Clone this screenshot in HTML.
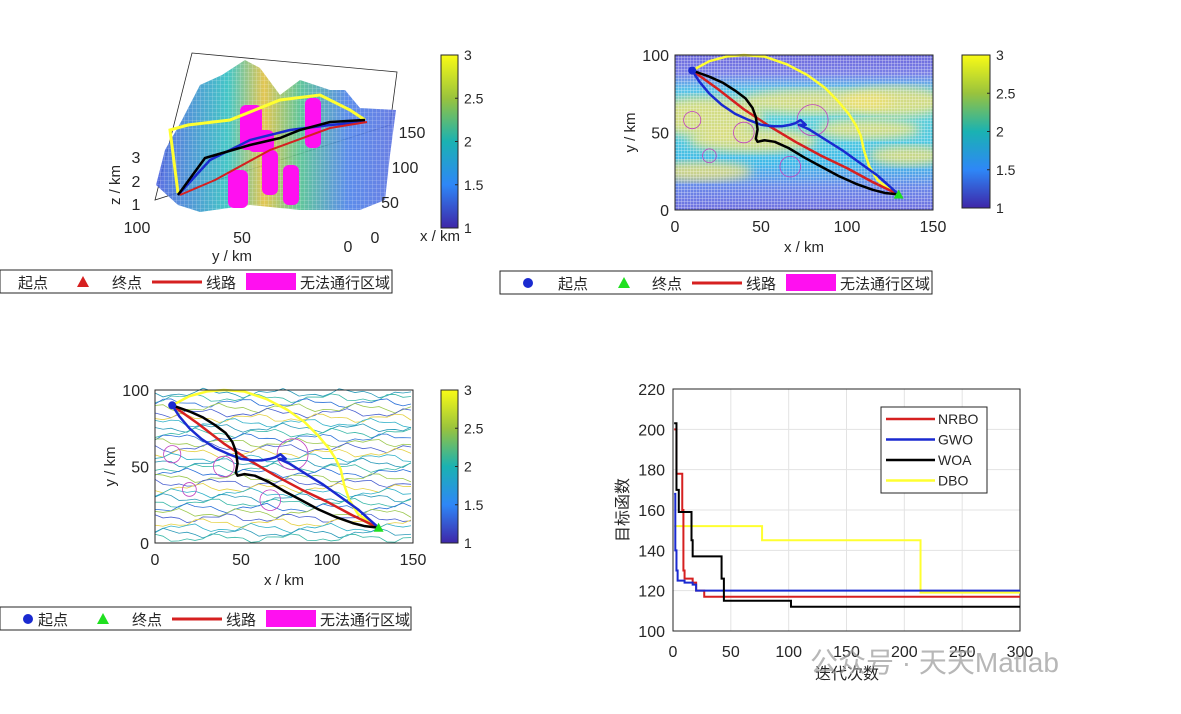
<!DOCTYPE html>
<html><head><meta charset="utf-8">
<style>
body{margin:0;background:#fff;width:1181px;height:709px;overflow:hidden;font-family:"Liberation Sans","Noto Sans CJK SC",sans-serif}
svg text{font-family:"Liberation Sans","Noto Sans CJK SC",sans-serif}
</style></head>
<body>
<svg id="s" width="1181" height="709" xmlns="http://www.w3.org/2000/svg">
<defs>
<linearGradient id="cb" x1="0" y1="1" x2="0" y2="0">
<stop offset="0" stop-color="#3e26a8"/><stop offset="0.25" stop-color="#2e87f7"/><stop offset="0.5" stop-color="#1ab2b2"/><stop offset="0.75" stop-color="#99c33d"/><stop offset="1" stop-color="#f9fb15"/></linearGradient>
<linearGradient id="bgv" x1="0" y1="0" x2="0" y2="1">
<stop offset="0" stop-color="#6c68dc"/><stop offset="0.12" stop-color="#7a80e6"/><stop offset="0.22" stop-color="#58c0e8"/><stop offset="0.35" stop-color="#60d0d8"/><stop offset="0.55" stop-color="#50c8e0"/><stop offset="0.7" stop-color="#40b8e8"/><stop offset="0.85" stop-color="#6a88e8"/><stop offset="1" stop-color="#7070e0"/></linearGradient>
<filter id="blur"><feGaussianBlur stdDeviation="5"/></filter>
<pattern id="wgrid" width="3" height="3" patternUnits="userSpaceOnUse"><path d="M0 0H3M0 0V3" stroke="#ffffff" stroke-width="0.7" opacity="0.75"/></pattern>
<pattern id="grid" width="4" height="4" patternUnits="userSpaceOnUse"><path d="M0 0H4M0 0V4" stroke="#ffffff" stroke-width="0.6" opacity="0.6"/></pattern>
<linearGradient id="terr" x1="0" y1="0" x2="1" y2="0">
<stop offset="0" stop-color="#4a5fe0"/><stop offset="0.3" stop-color="#30c0c0"/><stop offset="0.45" stop-color="#e0c040"/><stop offset="0.6" stop-color="#50c090"/><stop offset="0.8" stop-color="#4a80e8"/><stop offset="1" stop-color="#5a70e0"/></linearGradient>
</defs>
<g id="g"></g>
</svg>
<script>
// ---- convergence data ----
const iterNRBO=[1,3,8,9,10,17,20,27,300];
const valNRBO=[200,178,160,130,126,124,120,117,117];
const iterGWO=[1,2,3,4,10,17,20,300];
const valGWO=[168,140,130,125,124,123,120,120];
const iterWOA=[1,3,5,13,16,17,39,42,44,100,102,300];
const valWOA=[203,170,159,159,145,137,137,126,115,115,112,112];
const iterDBO=[1,75,77,212,214,300];
const valDBO=[152,152,145,145,119,119];
const xTicks=[0,50,100,150,200,250,300];
const yTicks=[100,120,140,160,180,200,220];
// ---- path data (x km, y km) ----
const pathYellowX=[10,20,30,40,52,65,77,87,95,101,105,108,110,113,118,124,130];
const pathYellowY=[90,96,99,100,99,94,87,79,70,62,55,48,38,28,19,14,10];
const pathBlackX=[10,20,28,35,41,45,47,48,47,48,52,58,66,75,85,95,105,115,122,130];
const pathBlackY=[90,86,82,77,72,66,60,52,46,44,45,44,40,34,28,22,17,13,11,10];
const pathBlueX=[10,14,20,27,35,43,50,57,62,67,70,73,76,72,78,88,98,108,118,124,130];
const pathBlueY=[90,83,75,68,62,58,55,54,54,55,56,58,55,55,52,45,38,30,22,16,10];
const pathRedX=[10,25,40,55,70,85,100,115,130];
const pathRedY=[90,78,65,54,44,35,27,18,10];
const obsX=[10,40,20,80,67];
const obsY=[58,50,35,58,28];
const obsR=[5,6,4,9,6];
const cbTicks=[1,1.5,2,2.5,3];

const NS='http://www.w3.org/2000/svg';
const G=document.getElementById('g');
function el(t,a,p){const e=document.createElementNS(NS,t);for(const k in a)e.setAttribute(k,a[k]);(p||G).appendChild(e);return e;}
function txt(x,y,s,size,anchor,p){const e=el('text',{x:x,y:y,'font-size':size,'text-anchor':anchor||'middle',fill:'#262626'},p);e.textContent=s;return e;}

// ---- convergence chart ----
const L=673,R=1020,T=389,B=631;
const sx=v=>L+(v/300)*(R-L), sy=v=>B-(v-100)/120*(B-T);
const cv=el('g',{});


xTicks.forEach(t=>{el('line',{x1:sx(t),x2:sx(t),y1:T,y2:B,stroke:'#e3e3e3'},cv);const l=txt(sx(t),657,t,16,'middle',cv);});
yTicks.forEach(t=>{el('line',{x1:L,x2:R,y1:sy(t),y2:sy(t),stroke:'#e3e3e3'},cv);const l=txt(L-8,sy(t)+6,t,16,'end',cv);});
el('rect',{x:L,y:T,width:R-L,height:B-T,fill:'none',stroke:'#262626'},cv);
function step(ix,vs,c,name){let d='M'+sx(ix[0])+' '+sy(vs[0]);for(let i=1;i<ix.length;i++){d+=' H'+sx(ix[i])+' V'+sy(vs[i]);}const p=el('path',{d:d,fill:'none',stroke:c,'stroke-width':2},cv);}
step(iterDBO,valDBO,'#ffff30','line-dbo');
step(iterNRBO,valNRBO,'#d62020','line-nrbo');
step(iterGWO,valGWO,'#1a2ad0','line-gwo');
step(iterWOA,valWOA,'#000','line-woa');
const lg=el('g',{},cv);


el('rect',{x:881,y:407,width:106,height:86,fill:'#fff',stroke:'#262626'},lg);
[['NRBO','#d62020'],['GWO','#1a2ad0'],['WOA','#000'],['DBO','#ffff30']].forEach((e,i)=>{const y=419+i*20.5;el('line',{x1:886,x2:935,y1:y,y2:y,stroke:e[1],'stroke-width':2.5},lg);txt(938,y+5,e[0],14,'start',lg);});
const yt=txt(628,510,'目标函数',16,'middle',cv);yt.setAttribute('transform','rotate(-90 628 510)');
const xt=txt(847,679,'迭代次数',16,'middle',cv);
const wm=txt(810,672,'公众号 · 天天Matlab',28,'start',cv);wm.setAttribute('fill','#999');wm.setAttribute('opacity','0.7');



// ---- colorbars ----
function colorbar(x,y,w,h,name){const g=el('g',{});
el('rect',{x:x,y:y,width:w,height:h,fill:'url(#cb)',stroke:'#262626'},g);
cbTicks.forEach(t=>{const yy=y+h-(t-1)/2*h;el('line',{x1:x+w-3,x2:x+w,y1:yy,y2:yy,stroke:'#262626'},g);txt(x+w+6,yy+5,t,14,'start',g);});}
colorbar(441,55,17,173,'colorbar-3d');
colorbar(962,55,28,153,'colorbar-top-right');
colorbar(441,390,17,153,'colorbar-bottom-left');

// ---- 2D path plots ----
function pathPlot(L2,R2,T2,B2,bg,name){
 const g=el('g',{});
 const px=v=>L2+v/150*(R2-L2), py=v=>B2-v/100*(B2-T2);
 const W=R2-L2,H=B2-T2;
 if(bg==='grid'){
  const cp=el('clipPath',{id:'cp1'},g);el('rect',{x:L2,y:T2,width:W,height:H},cp);
  const bgG=el('g',{'clip-path':'url(#cp1)'},g);
  el('rect',{x:L2,y:T2,width:W,height:H,fill:'url(#bgv)'},bgG);
  [[0.12,0.4,0.22,0.08],[0.55,0.3,0.3,0.05],[0.85,0.3,0.2,0.06],[0.3,0.55,0.25,0.05],[0.75,0.48,0.2,0.04],[0.1,0.75,0.2,0.04],[0.9,0.65,0.15,0.04]].forEach(e=>el('ellipse',{cx:L2+e[0]*W,cy:T2+e[1]*H,rx:e[2]*W,ry:e[3]*H*1.6,fill:'#f0e070',opacity:0.8,filter:'url(#blur)'},bgG));
  el('rect',{x:L2,y:T2,width:W,height:H,fill:'url(#wgrid)'},bgG);}
 else{el('rect',{x:L2,y:T2,width:W,height:H,fill:'#fff'},g);
  const cols=['#2a9ab8','#3ab8a8','#2a70d8','#9cc850','#4a60d0','#e4d040','#30b0c8'];
  for(let i=0;i<30;i++){const yy=T2+3+i*5;let d=`M${L2} ${yy}`;for(let x=0;x<=W;x+=8){d+=` L${L2+x} ${yy+3*Math.sin(x*0.09+i*1.7)+2*Math.sin(x*0.23+i)}`;}
   el('path',{d:d,fill:'none',stroke:cols[i%7],'stroke-width':0.8},g);}}
 obsX.forEach((o,i)=>el('circle',{cx:px(o),cy:py(obsY[i]),r:obsR[i]*W/150,fill:'none',stroke:'#c040c0','stroke-width':0.8},g));
 function line(xs,ys,c){el('polyline',{points:xs.map((v,i)=>px(v)+','+py(ys[i])).join(' '),fill:'none',stroke:c,'stroke-width':2.5,'stroke-linejoin':'round'},g);}
 line(pathYellowX,pathYellowY,'#ffff30');line(pathRedX,pathRedY,'#d62020');line(pathBlueX,pathBlueY,'#1a2ad0');line(pathBlackX,pathBlackY,'#000');
 el('circle',{cx:px(10),cy:py(90),r:4,fill:'#1a2ad0'},g);
 el('polygon',{points:`${px(130)},${py(10)-5} ${px(130)-5},${py(10)+4} ${px(130)+5},${py(10)+4}`,fill:'#20e020'},g);
 el('rect',{x:L2,y:T2,width:W,height:H,fill:'none',stroke:'#262626'},g);
 [0,50,100,150].forEach(t=>txt(px(t),B2+22,t,16,'middle',g));
 [0,50,100].forEach(t=>txt(L2-6,py(t)+6,t,16,'end',g));
 txt((L2+R2)/2,B2+42,'x / km',15,'middle',g).setAttribute('font-family','Liberation Serif');
 const yl=txt(L2-40,(T2+B2)/2,'y / km',15,'middle',g);yl.setAttribute('transform',`rotate(-90 ${L2-40} ${(T2+B2)/2})`);yl.setAttribute('font-family','Liberation Serif');
}
pathPlot(675,933,55,210,'grid','path-plot-top-right');
pathPlot(155,413,390,543,'contour','path-plot-bottom-left');

// ---- 3D plot (approximation) ----
const g3=el('g',{});


el('polygon',{points:'192,53 397,72 390,125 155,200',fill:'none',stroke:'#262626','stroke-width':0.8},g3);
el('polygon',{points:'156,185 165,150 182,120 200,85 222,75 245,60 260,68 280,95 300,80 330,90 345,90 360,108 396,110 390,155 385,200 360,210 300,210 250,205 200,212 178,205',fill:'url(#terr)',opacity:0.9},g3);
el('polygon',{points:'156,185 165,150 182,120 200,85 222,75 245,60 260,68 280,95 300,80 330,90 345,90 360,108 396,110 390,155 385,200 360,210 300,210 250,205 200,212 178,205',fill:'url(#grid)'},g3);
[[240,105,22,45],[305,98,16,50],[262,150,16,45],[228,170,20,38],[283,165,16,40],[248,130,26,22]].forEach(c=>el('rect',{x:c[0],y:c[1],width:c[2],height:c[3],rx:6,fill:'#ff10f0'},g3));
el('polyline',{points:'178,193 170,130 188,125 230,120 280,100 320,95 350,110 365,120',fill:'none',stroke:'#ffff30','stroke-width':3},g3);
el('polyline',{points:'178,195 210,160 250,140 290,130 330,125 365,122',fill:'none',stroke:'#1a2ad0','stroke-width':2.5},g3);
el('polyline',{points:'178,195 205,158 250,145 280,138 300,130 330,122 365,120',fill:'none',stroke:'#000','stroke-width':2.5},g3);
el('polyline',{points:'180,195 215,180 270,150 330,128 367,122',fill:'none',stroke:'#d62020','stroke-width':2},g3);
[[136,163,'3'],[136,187,'2'],[136,210,'1']].forEach(t=>txt(t[0],t[1],t[2],16,'middle',g3));
txt(137,233,'100',16,'middle',g3);txt(242,243,'50',16,'middle',g3);txt(348,252,'0',16,'middle',g3);
txt(375,243,'0',16,'middle',g3);txt(390,208,'50',16,'middle',g3);txt(405,173,'100',16,'middle',g3);txt(412,138,'150',16,'middle',g3);
txt(232,261,'y / km',15,'middle',g3).setAttribute('font-family','Liberation Serif');
txt(440,241,'x / km',15,'middle',g3).setAttribute('font-family','Liberation Serif');
const zl=txt(120,185,'z / km',15,'middle',g3);zl.setAttribute('transform','rotate(-90 120 185)');zl.setAttribute('font-family','Liberation Serif');

// ---- path legends ----
function legend(x,y,w,name,hasDot,dx){
 const g=el('g',{});
 el('rect',{x:x,y:y,width:w,height:23,fill:'#fff',stroke:'#262626'},g);
 const c=y+12;
 if(hasDot)el('circle',{cx:x+28,cy:c,r:5,fill:'#1a2ad0'},g);
 txt(x+dx[0],c+6,'起点',15,'start',g);
 el('polygon',{points:`${x+dx[1]},${c-6} ${x+dx[1]-6},${c+5} ${x+dx[1]+6},${c+5}`,fill:hasDot?'#20e020':'#d62020'},g);
 txt(x+dx[2],c+6,'终点',15,'start',g);
 el('line',{x1:x+dx[3],x2:x+dx[3]+50,y1:c,y2:c,stroke:'#d62020','stroke-width':3},g);
 txt(x+dx[3]+54,c+6,'线路',15,'start',g);
 el('rect',{x:x+dx[4],y:y+3,width:50,height:17,fill:'#ff10f0'},g);
 txt(x+dx[4]+54,c+6,'无法通行区域',15,'start',g);
}
legend(0,270,392,'legend-3d',false,[18,83,112,152,246]);
legend(500,271,432,'legend-top-right',true,[58,124,152,192,286]);
legend(0,607,411,'legend-bottom-left',true,[38,103,132,172,266]);
</script>
</body></html>
